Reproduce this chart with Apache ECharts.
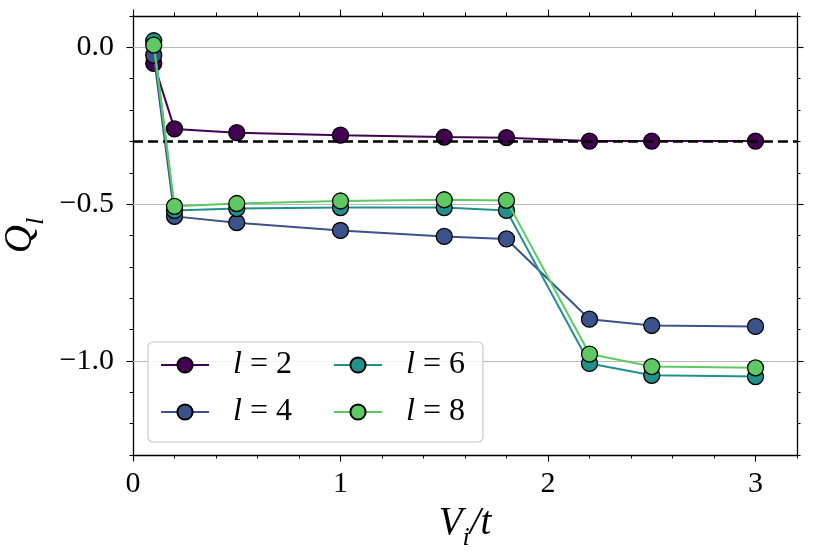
<!DOCTYPE html>
<html>
<head>
<meta charset="utf-8">
<script src="https://cdn.jsdelivr.net/npm/echarts@6/dist/echarts.min.js"></script>
<style>
html,body{margin:0;padding:0;background:#fff;}
#c{width:814px;height:556px;}
</style>
</head>
<body>
<div id="c"></div>
<script>
// ---- data ----
const xValues = [0.1, 0.2, 0.5, 1.0, 1.5, 1.8, 2.2, 2.5, 3.0];
const seriesNames = ['l = 2', 'l = 4', 'l = 6', 'l = 8'];
const q2 = [-0.051, -0.260, -0.272, -0.280, -0.286, -0.288, -0.299, -0.299, -0.299];
const q4 = [-0.025, -0.539, -0.559, -0.584, -0.603, -0.611, -0.867, -0.887, -0.890];
const q6 = [0.021, -0.520, -0.514, -0.511, -0.511, -0.520, -1.008, -1.046, -1.050];
const q8 = [0.007, -0.507, -0.498, -0.490, -0.486, -0.488, -0.978, -1.018, -1.022];
const referenceLine = -0.3;
const yMajorTicks = [-1.0, -0.5, 0.0];
const xMajorTicks = [0, 1, 2, 3];

const colors = ['#440154', '#3b528b', '#21918c', '#5ec962'];
const allSeries = [q2, q4, q6, q8];
const FONT = '"Liberation Serif", "DejaVu Serif", serif';

function pairs(ys) { return xValues.map((x, i) => [x, ys[i]]); }

const chart = echarts.init(document.getElementById('c'), null, {renderer: 'canvas'});

const spine = {show: true, onZero: false, lineStyle: {color: '#000', width: 1.3}};
function xAxisDef(pos, major, labels) {
  const a = {
    type: 'value', min: 0, max: 3.2, position: pos,
    splitLine: {show: false},
    axisLine: major ? spine : {show: false, onZero: false},
    axisTick: major
      ? {show: true, inside: false, length: 6.5, lineStyle: {color: '#000', width: 1.1}, customValues: xMajorTicks}
      : {show: true, inside: false, length: 3.5, lineStyle: {color: '#000', width: 1}},
    axisLabel: labels
      ? {show: true, customValues: xMajorTicks, margin: 14, color: '#000', fontFamily: FONT, fontSize: 30,
         formatter: v => String(Math.round(v))}
      : {show: false}
  };
  if (!major) a.interval = 0.2;
  if (labels) {
    a.name = '{v|V}{s|i}{v|/t}';
    a.nameLocation = 'middle';
    a.nameGap = 38;
    a.nameTextStyle = {
      rich: {
        v: {fontFamily: FONT, fontStyle: 'italic', fontSize: 39, lineHeight: 56, color: '#000', verticalAlign: 'middle'},
        s: {fontFamily: FONT, fontStyle: 'italic', fontSize: 26, lineHeight: 32, color: '#000', verticalAlign: 'bottom'}
      }
    };
  }
  return a;
}
function yAxisDef(pos, major, labels) {
  const a = {
    type: 'value', min: -1.3, max: 0.1, position: pos,
    splitLine: {show: false},
    axisLine: major ? spine : {show: false, onZero: false},
    axisTick: major
      ? {show: true, inside: false, length: 6.5, lineStyle: {color: '#000', width: 1.1}, customValues: yMajorTicks}
      : {show: true, inside: false, length: 3.5, lineStyle: {color: '#000', width: 1}},
    axisLabel: labels
      ? {show: true, customValues: yMajorTicks, margin: 19, color: '#000', fontFamily: FONT, fontSize: 30,
         formatter: v => v.toFixed(1).replace('-', '\u2212')}
      : {show: false}
  };
  if (!major) a.interval = 0.1;
  if (labels) {
    a.name = '{v|Q}{s|l}';
    a.nameLocation = 'middle';
    a.nameGap = 77;
    a.nameRotate = 90;
    a.nameTextStyle = {
      rich: {
        v: {fontFamily: FONT, fontStyle: 'italic', fontSize: 39, lineHeight: 56, color: '#000', verticalAlign: 'middle'},
        s: {fontFamily: FONT, fontStyle: 'italic', fontSize: 26, lineHeight: 32, color: '#000', verticalAlign: 'bottom'}
      }
    };
  }
  return a;
}

const lineSeries = allSeries.map((ys, i) => ({
  name: seriesNames[i],
  type: 'line',
  xAxisIndex: 0, yAxisIndex: 0,
  data: pairs(ys),
  z: 3 + i,
  symbol: 'circle',
  symbolSize: 16,
  showSymbol: true,
  lineStyle: {color: colors[i], width: 2},
  itemStyle: {color: colors[i], borderColor: '#000', borderWidth: 1.3},
  emphasis: {disabled: true}
}));

const refSeries = {
  name: 'ref', type: 'line', xAxisIndex: 0, yAxisIndex: 0, data: [], z: 1, silent: true,
  markLine: {
    symbol: 'none', silent: true, animation: false, label: {show: false},
    data: yMajorTicks.map(v => ({yAxis: v, lineStyle: {color: '#b8b8b8', width: 1.2, type: 'solid'}}))
      .concat([{yAxis: referenceLine, lineStyle: {color: '#000', width: 2.6, type: [10, 5]}}])
  }
};

const legendRich = {
  i: {fontFamily: FONT, fontStyle: 'italic', fontSize: 32, color: '#000', padding: [0, 0, 0, 19], lineHeight: 30},
  n: {fontFamily: FONT, fontSize: 32, color: '#000', lineHeight: 30}
};
function legendFmt(name) {
  const num = name.split('=')[1].trim();
  return '{i|l}{n| = ' + num + '}';
}

const option = {
  animation: false,
  backgroundColor: '#fff',
  grid: {left: 133, right: 17, top: 16, bottom: 101, containLabel: false, outerBoundsMode: 'none'},
  xAxis: [
    xAxisDef('bottom', true, true),
    xAxisDef('bottom', false, false),
    xAxisDef('top', true, false),
    xAxisDef('top', false, false)
  ],
  yAxis: [
    yAxisDef('left', true, true),
    yAxisDef('left', false, false),
    yAxisDef('right', true, false),
    yAxisDef('right', false, false)
  ],
  legend: [
    {
      data: [seriesNames[0], seriesNames[1]],
      orient: 'vertical', left: 148, top: 342,
      padding: [7, 191, 14, 12],
      itemGap: 15, itemWidth: 48, itemHeight: 19,
      backgroundColor: 'rgba(255,255,255,0.85)',
      borderColor: '#cccccc', borderWidth: 1.2, borderRadius: 5,
      formatter: legendFmt,
      textStyle: {rich: legendRich},
      selectedMode: false, z: 20
    },
    {
      data: [seriesNames[2], seriesNames[3]],
      orient: 'vertical', left: 333, top: 349,
      padding: 0,
      itemGap: 15, itemWidth: 48, itemHeight: 19,
      formatter: legendFmt,
      textStyle: {rich: legendRich},
      selectedMode: false, z: 21
    }
  ],
  series: [refSeries].concat(lineSeries)
};
chart.setOption(option);
</script>
</body>
</html>
